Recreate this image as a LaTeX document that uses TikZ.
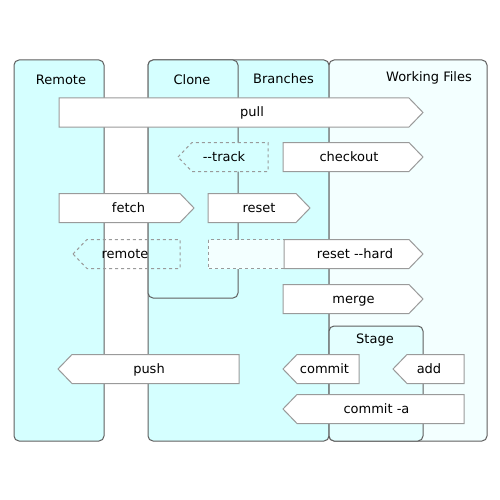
\documentclass[tikz,border=0pt]{standalone}
\usepackage{fontspec}
\setmainfont{DejaVu Sans}[Ligatures=TeXOff]
\usepackage{tikz}
\definecolor{panelcyan}{HTML}{D5FFFF}
\definecolor{stagecyan}{HTML}{E4FFFF}
\definecolor{workcyan}{HTML}{F3FFFF}
\definecolor{panelline}{HTML}{5F5F5F}
\definecolor{boxline}{HTML}{9A9A9A}
\tikzset{
  panel/.style={draw=panelline, line width=1pt, rounded corners=5pt, fill=panelcyan},
  opbox/.style={draw=boxline, line width=1pt, fill=white},
  ghostbox/.style={draw=boxline, line width=1pt, dashed},
  txt/.style={inner sep=0, anchor=base, font=\fontsize{13}{15}\selectfont}
}

\begin{document}
\begin{tikzpicture}[x=1pt, y=-1pt]
  \useasboundingbox (0, 0) rectangle (500, 500);

  % columns
  \draw[panel] (14, 60) rectangle (104, 441);
  \draw[panel] (148, 60) rectangle (329, 441);
  \draw[panel, fill=workcyan] (329, 60) rectangle (487, 441);
  \draw[panel] (148, 60) rectangle (238, 298);
  \draw[panel, fill=stagecyan] (329, 326) rectangle (423, 441);

  \node[txt] at (61, 85) (remotehead) {Remote};
  \node[txt] at (192, 85) (clonehead) {Clone};
  \node[txt] at (283.5, 84) (branchhead) {Branches};
  \node[txt] at (429, 82) (workhead) {Working Files};
  \node[txt] at (375, 343) (stagehead) {Stage};

  % arrows to the right
  \draw[opbox] (59, 98) -- (409, 98) -- (423, 112.5) -- (409, 127) -- (59, 127) -- cycle;
  \node[txt] at (252, 117) (pull) {pull};
  \draw[opbox] (283, 142.5) -- (409, 142.5) -- (423, 157) -- (409, 171.5) -- (283, 171.5) -- cycle;
  \node[txt] at (349, 161.5) (checkout) {checkout};
  \draw[opbox] (59, 193.5) -- (180, 193.5) -- (194, 208) -- (180, 222.5) -- (59, 222.5) -- cycle;
  \node[txt] at (128.5, 212.5) (fetch) {fetch};
  \draw[opbox] (208, 193.5) -- (296, 193.5) -- (310, 208) -- (296, 222.5) -- (208, 222.5) -- cycle;
  \node[txt] at (259, 212.5) (reset) {reset};

  \draw[ghostbox, fill=workcyan] (208, 239.5) rectangle (284, 268.5);
  \draw[opbox] (284, 239.5) -- (409, 239.5) -- (423, 254) -- (409, 268.5) -- (284, 268.5) -- cycle;
  \node[txt] at (355, 258.5) (resethard) {reset --hard};
  \draw[opbox] (283, 284.5) -- (409, 284.5) -- (423, 299) -- (409, 313.5) -- (283, 313.5) -- cycle;
  \node[txt] at (353.5, 303.5) (merge) {merge};

  % arrows to the left
  \draw[ghostbox, fill=panelcyan] (178, 157) -- (192, 142.5) -- (268, 142.5) -- (268, 171.5) -- (192, 171.5) -- cycle;
  \node[txt] at (224, 161.5) (track) {--track};
  \draw[ghostbox] (73, 254) -- (87, 239.5) -- (180, 239.5) -- (180, 268.5) -- (87, 268.5) -- cycle;
  \node[txt] at (125, 258.5) (remote) {remote};

  \draw[opbox] (58, 369) -- (72, 354.5) -- (239, 354.5) -- (239, 383.5) -- (72, 383.5) -- cycle;
  \node[txt] at (149, 373.5) (push) {push};
  \draw[opbox] (283, 369) -- (297, 354.5) -- (359, 354.5) -- (359, 383.5) -- (297, 383.5) -- cycle;
  \node[txt] at (324.5, 373.5) (commit) {commit};
  \draw[opbox] (393, 369) -- (407, 354.5) -- (464, 354.5) -- (464, 383.5) -- (407, 383.5) -- cycle;
  \node[txt] at (429, 373.5) (add) {add};
  \draw[opbox] (283, 409) -- (297, 394.5) -- (464, 394.5) -- (464, 423.5) -- (297, 423.5) -- cycle;
  \node[txt] at (376.5, 413.5) (commita) {commit -a};
\end{tikzpicture}
\end{document}
